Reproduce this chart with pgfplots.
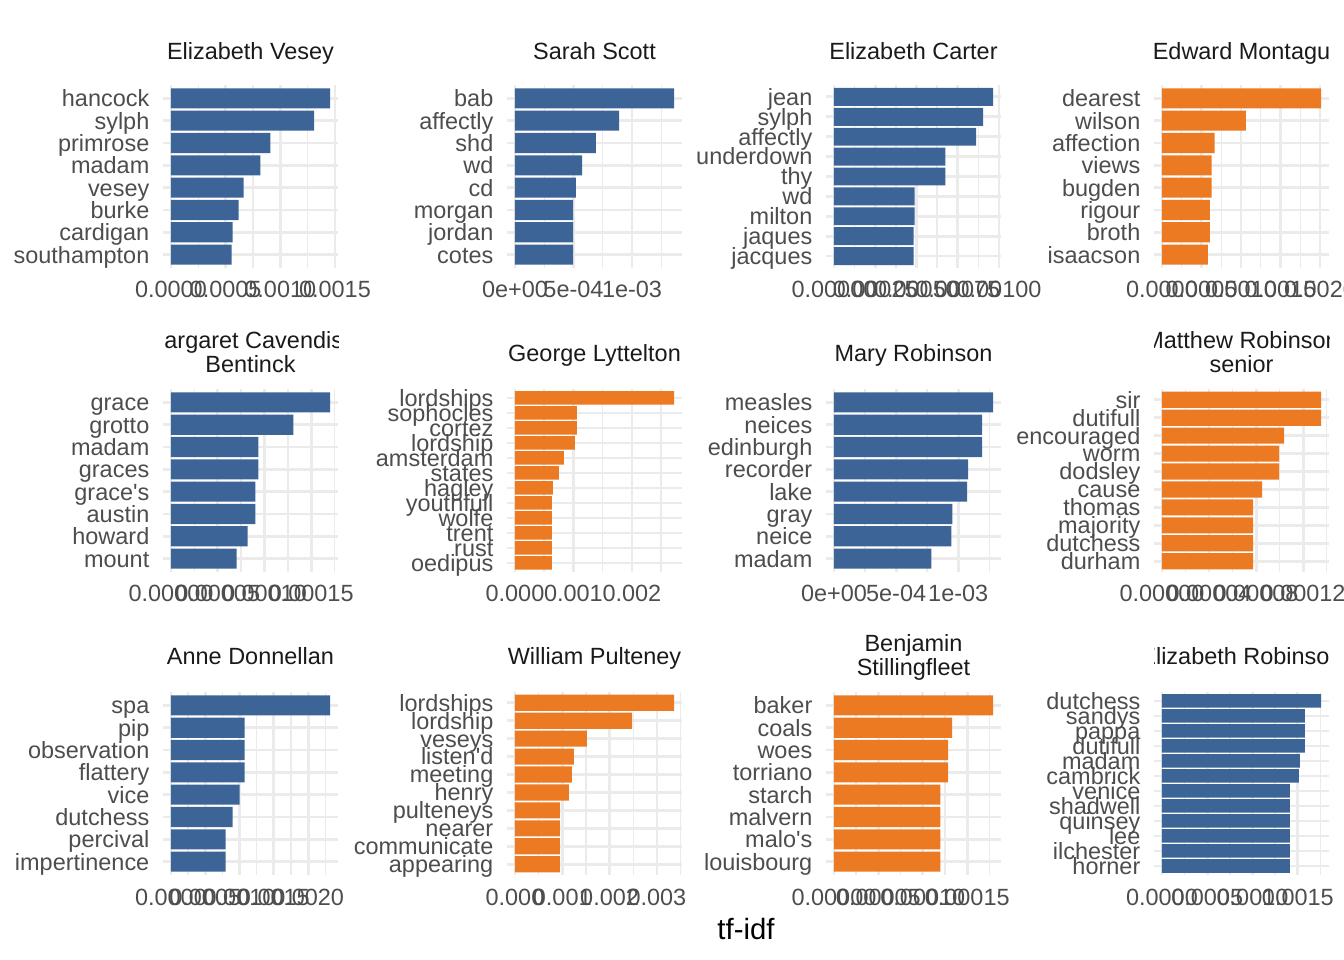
\documentclass[border=0pt]{standalone}
\usepackage{pgfplots}
\pgfplotsset{compat=1.18}
\usepackage{fontspec}
\setmainfont{Liberation Sans}
\newfontfamily\rfont{Liberation Sans}
\definecolor{barblue}{HTML}{3D6496}
\definecolor{barorange}{HTML}{EC7A23}
\definecolor{gridc}{HTML}{EBEBEB}
\definecolor{tickc}{HTML}{4D4D4D}
\definecolor{stripc}{HTML}{1A1A1A}
\newcommand{\ux}{0.375bp}
\newcommand{\tfont}{\rfont\fontsize{8.8bp}{10bp}\selectfont}
\pgfplotsset{
  facet/.style={
    scale only axis, width=65.625bp, height=68.625bp, anchor=south west,
    axis line style={draw=none}, tick style={draw=none},
    major tick length=0pt, minor tick length=0pt,
    scaled x ticks=false, scaled y ticks=false,
    xmajorgrids, xminorgrids, ymajorgrids,
    major grid style={gridc, line width=1.07bp},
    minor grid style={gridc, line width=0.53bp},
    ymin=0.4,
    tick label style={font=\tfont, text=tickc, inner sep=0pt},
    xticklabel style={anchor=base, yshift=-11.25bp},
    yticklabel style={anchor=base east, xshift=-4.93bp, yshift=-3.15bp},
    clip=false,
  },
  hb/.style={xbar, bar width=0.9, bar shift=0pt, draw=none, fill=#1},
}
\begin{document}
\begin{tikzpicture}
\useasboundingbox (0,0) rectangle ({1344*\ux},{960*\ux});

% ---------- Row 1 ----------
\begin{axis}[facet, at={({163*\ux},{692*\ux})},
  xmin=-7.28e-5, xmax=0.001528, ymax=8.6,
  xtick={0,0.0005,0.001,0.0015}, xticklabels={0.0000,0.0005,0.0010,0.0015},
  minor xtick={0.00025,0.00075,0.00125},
  ytick={1,...,8}, yticklabels={southampton,cardigan,burke,vesey,madam,primrose,sylph,hancock}]
\addplot[hb=barblue] coordinates {(0.001455,8) (0.001309,7) (0.000909,6) (0.000818,5) (0.000664,4) (0.000618,3) (0.000564,2) (0.000555,1)};
\end{axis}

\begin{axis}[facet, at={({507*\ux},{692*\ux})},
  xmin=-6.8e-5, xmax=0.001427, ymax=8.6,
  xtick={0,0.0005,0.001}, xticklabels={0e+00,5e-04,1e-03},
  minor xtick={0.00025,0.00075,0.00125},
  ytick={1,...,8}, yticklabels={cotes,jordan,morgan,cd,wd,shd,affectly,bab}]
\addplot[hb=barblue] coordinates {(0.001359,8) (0.000889,7) (0.000692,6) (0.000573,5) (0.000521,4) (0.000496,3) (0.000496,2) (0.000496,1)};
\end{axis}

\begin{axis}[facet, at={({826*\ux},{692*\ux})},
  xmin=-4.82e-5, xmax=0.001012, ymax=9.6,
  xtick={0,0.00025,0.0005,0.00075,0.001}, xticklabels={0.00000,0.00025,0.00050,0.00075,0.00100},
  minor xtick={0.000125,0.000375,0.000625,0.000875},
  ytick={1,...,9}, yticklabels={jacques,jaques,milton,wd,thy,underdown,affectly,sylph,jean}]
\addplot[hb=barblue] coordinates {(0.000964,9) (0.000904,8) (0.000861,7) (0.000675,6) (0.000675,5) (0.000488,4) (0.000488,3) (0.000482,2) (0.000482,1)};
\end{axis}

\begin{axis}[facet, at={({1154*\ux},{692*\ux})},
  xmin=-1.007e-4, xmax=0.002114, ymax=8.6,
  xtick={0,0.0005,0.001,0.0015,0.002}, xticklabels={0.0000,0.0005,0.0010,0.0015,0.0020},
  minor xtick={0.00025,0.00075,0.00125,0.00175},
  ytick={1,...,8}, yticklabels={isaacson,broth,rigour,bugden,views,affection,wilson,dearest}]
\addplot[hb=barorange] coordinates {(0.002013,8) (0.001063,7) (0.000665,6) (0.000627,5) (0.000627,4) (0.000605,3) (0.000605,2) (0.000582,1)};
\end{axis}

% ---------- Row 2 ----------
\begin{axis}[facet, at={({163*\ux},{388*\ux})},
  xmin=-8.51e-6, xmax=1.787e-4, ymax=8.6,
  xtick={0,0.00005,0.0001,0.00015}, xticklabels={0.00000,0.00005,0.00010,0.00015},
  minor xtick={0.000025,0.000075,0.000125,0.000175},
  ytick={1,...,8}, yticklabels={mount,howard,austin,grace's,graces,madam,grotto,grace}]
\addplot[hb=barblue] coordinates {(0.0001702,8) (0.0001309,7) (0.0000936,6) (0.0000936,5) (0.0000904,4) (0.0000904,3) (0.0000819,2) (0.0000702,1)};
\end{axis}

\begin{axis}[facet, at={({507*\ux},{388*\ux})},
  xmin=-1.36e-4, xmax=0.002856, ymax=12.6,
  xtick={0,0.001,0.002}, xticklabels={0.000,0.001,0.002},
  minor xtick={0.0005,0.0015,0.0025},
  ytick={1,...,12}, yticklabels={oedipus,rust,trent,wolfe,youthfull,hagley,states,amsterdam,lordship,cortez,sophocles,lordships}]
\addplot[hb=barorange] coordinates {(0.00272,12) (0.00106,11) (0.00106,10) (0.001026,9) (0.000838,8) (0.000752,7) (0.00065,6) (0.000632,5) (0.000632,4) (0.000632,3) (0.000632,2) (0.000632,1)};
\end{axis}

\begin{axis}[facet, at={({826*\ux},{388*\ux})},
  xmin=-6.4e-5, xmax=0.001344, ymax=8.6,
  xtick={0,0.0005,0.001}, xticklabels={0e+00,5e-04,1e-03},
  minor xtick={0.00025,0.00075,0.00125},
  ytick={1,...,8}, yticklabels={madam,neice,gray,lake,recorder,edinburgh,neices,measles}]
\addplot[hb=barblue] coordinates {(0.00128,8) (0.001192,7) (0.001192,6) (0.00108,5) (0.001072,4) (0.000952,3) (0.000944,2) (0.000784,1)};
\end{axis}

\begin{axis}[facet, at={({1154*\ux},{388*\ux})},
  xmin=-6.77e-6, xmax=1.42e-4, ymax=10.6,
  xtick={0,0.00004,0.00008,0.00012}, xticklabels={0.00000,0.00004,0.00008,0.00012},
  minor xtick={0.00002,0.00006,0.0001,0.00014},
  ytick={1,...,10}, yticklabels={durham,dutchess,majority,thomas,cause,dodsley,worm,encouraged,dutifull,sir}]
\addplot[hb=barorange] coordinates {(0.0001353,10) (0.0001353,9) (0.0001038,8) (0.0000996,7) (0.0000996,6) (0.0000851,5) (0.0000774,4) (0.0000774,3) (0.0000774,2) (0.0000774,1)};
\end{axis}

% ---------- Row 3 ----------
\begin{axis}[facet, at={({163*\ux},{85*\ux})},
  xmin=-1.16e-4, xmax=0.002435, ymax=8.6,
  xtick={0,0.0005,0.001,0.0015,0.002}, xticklabels={0.0000,0.0005,0.0010,0.0015,0.0020},
  minor xtick={0.00025,0.00075,0.00125,0.00175,0.00225},
  ytick={1,...,8}, yticklabels={impertinence,percival,dutchess,vice,flattery,observation,pip,spa}]
\addplot[hb=barblue] coordinates {(0.002319,8) (0.001072,7) (0.001072,6) (0.001072,5) (0.001,4) (0.000899,3) (0.000797,2) (0.000797,1)};
\end{axis}

\begin{axis}[facet, at={({507*\ux},{85*\ux})},
  xmin=-1.68e-4, xmax=0.00353, ymax=10.6,
  xtick={0,0.001,0.002,0.003}, xticklabels={0.000,0.001,0.002,0.003},
  minor xtick={0.0005,0.0015,0.0025,0.0035},
  ytick={1,...,10}, yticklabels={appearing,communicate,nearer,pulteneys,henry,meeting,listen'd,veseys,lordship,lordships}]
\addplot[hb=barorange] coordinates {(0.003362,10) (0.002474,9) (0.001522,8) (0.001247,7) (0.001205,6) (0.001142,5) (0.000951,4) (0.000951,3) (0.000951,2) (0.000951,1)};
\end{axis}

\begin{axis}[facet, at={({826*\ux},{85*\ux})},
  xmin=-8.95e-6, xmax=1.88e-4, ymax=8.6,
  xtick={0,0.00005,0.0001,0.00015}, xticklabels={0.00000,0.00005,0.00010,0.00015},
  minor xtick={0.000025,0.000075,0.000125,0.000175},
  ytick={1,...,8}, yticklabels={louisbourg,malo's,malvern,starch,torriano,woes,coals,baker}]
\addplot[hb=barorange] coordinates {(0.000179,8) (0.0001331,7) (0.0001286,6) (0.0001286,5) (0.0001197,4) (0.0001197,3) (0.0001197,2) (0.0001197,1)};
\end{axis}

\begin{axis}[facet, at={({1154*\ux},{85*\ux})},
  xmin=-8.78e-5, xmax=0.001844, ymax=12.6,
  xtick={0,0.0005,0.001,0.0015}, xticklabels={0.0000,0.0005,0.0010,0.0015},
  minor xtick={0.00025,0.00075,0.00125,0.00175},
  ytick={1,...,12}, yticklabels={horner,ilchester,lee,quinsey,shadwell,venice,cambrick,madam,dutifull,pappa,sandys,dutchess}]
\addplot[hb=barblue] coordinates {(0.001756,12) (0.001578,11) (0.001578,10) (0.001578,9) (0.001522,8) (0.001511,7) (0.001411,6) (0.001411,5) (0.001411,4) (0.001411,3) (0.001411,2) (0.001411,1)};
\end{axis}

% ---------- Strip titles ----------
\tikzset{strip/.style={anchor=base, inner sep=0pt, text=stripc, font=\tfont}}
% row 1
\begin{scope}\clip ({163*\ux},{875*\ux}) rectangle ({338*\ux},{960*\ux});
\node[strip] at ({250.5*\ux},{900*\ux}) {Elizabeth Vesey};\end{scope}
\begin{scope}\clip ({507*\ux},{875*\ux}) rectangle ({682*\ux},{960*\ux});
\node[strip] at ({594.5*\ux},{900*\ux}) {Sarah Scott};\end{scope}
\begin{scope}\clip ({826*\ux},{875*\ux}) rectangle ({1001*\ux},{960*\ux});
\node[strip] at ({913.5*\ux},{900*\ux}) {Elizabeth Carter};\end{scope}
\begin{scope}\clip ({1154*\ux},{875*\ux}) rectangle ({1329*\ux},{960*\ux});
\node[strip] at ({1241.5*\ux},{900*\ux}) {Edward Montagu};\end{scope}
% row 2
\begin{scope}\clip ({163*\ux},{571*\ux}) rectangle ({338*\ux},{650*\ux});
\node[strip] at ({250.5*\ux},{611*\ux}) {Margaret Cavendish};
\node[strip] at ({250.5*\ux},{587*\ux}) {Bentinck};\end{scope}
\begin{scope}\clip ({507*\ux},{571*\ux}) rectangle ({682*\ux},{650*\ux});
\node[strip] at ({594.5*\ux},{598*\ux}) {George Lyttelton};\end{scope}
\begin{scope}\clip ({826*\ux},{571*\ux}) rectangle ({1001*\ux},{650*\ux});
\node[strip] at ({913.5*\ux},{598*\ux}) {Mary Robinson};\end{scope}
\begin{scope}\clip ({1154*\ux},{571*\ux}) rectangle ({1329*\ux},{650*\ux});
\node[strip] at ({1241.5*\ux},{611*\ux}) {Matthew Robinson};
\node[strip] at ({1241.5*\ux},{587*\ux}) {senior};\end{scope}
% row 3
\begin{scope}\clip ({163*\ux},{268*\ux}) rectangle ({338*\ux},{345*\ux});
\node[strip] at ({250.5*\ux},{295*\ux}) {Anne Donnellan};\end{scope}
\begin{scope}\clip ({507*\ux},{268*\ux}) rectangle ({682*\ux},{345*\ux});
\node[strip] at ({594.5*\ux},{295*\ux}) {William Pulteney};\end{scope}
\begin{scope}\clip ({826*\ux},{268*\ux}) rectangle ({1001*\ux},{345*\ux});
\node[strip] at ({913.5*\ux},{308*\ux}) {Benjamin};
\node[strip] at ({913.5*\ux},{284*\ux}) {Stillingfleet};\end{scope}
\begin{scope}\clip ({1154*\ux},{268*\ux}) rectangle ({1329*\ux},{345*\ux});
\node[strip] at ({1241.5*\ux},{295*\ux}) {Elizabeth Robinson};\end{scope}

% x-axis title
\node[anchor=base, inner sep=0pt, font=\rfont\fontsize{11bp}{13bp}\selectfont] at ({746*\ux},{21*\ux}) {tf-idf};
\end{tikzpicture}
\end{document}
